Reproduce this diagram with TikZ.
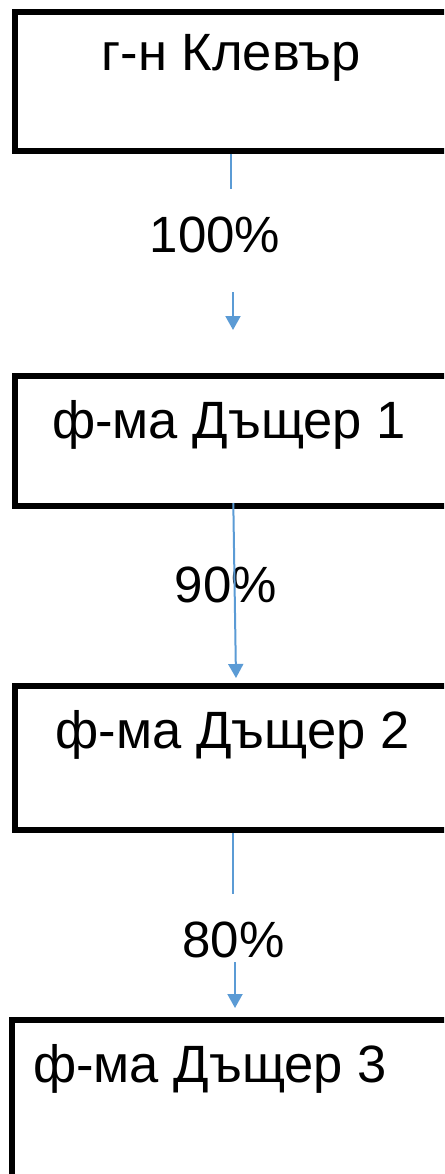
\documentclass[tikz,border=0pt]{standalone}
\usepackage{fontspec}
\setmainfont{Liberation Sans}
\usetikzlibrary{arrows.meta}
\definecolor{arrowblue}{HTML}{5B9BD5}
\begin{document}
\begin{tikzpicture}[x=1pt,y=-1pt,
  box/.style={draw=black,line width=6pt,rectangle,inner sep=0pt,minimum width=436pt},
  boxtext/.style={font=\fontsize{52.5}{52.5}\selectfont,inner sep=0pt,anchor=base},
  pct/.style={font=\fontsize{51}{51}\selectfont,inner sep=0pt,anchor=base},
  conn/.style={draw=arrowblue,line width=2pt},
  tip/.style={conn,-{Triangle[width=15pt,length=14pt]}}]
\useasboundingbox (0,0) rectangle (444,1174);
\clip (0,0) rectangle (444,1174);
% boxes
\node[box,minimum height=139pt] (b1) at (233,81.5) {};
\node[box,minimum height=130pt] (b2) at (233,441) {};
\node[box,minimum height=144pt] (b3) at (233,758) {};
\node[box,minimum width=442pt,minimum height=200pt] (b4) at (233,1120) {};
% box texts
\node[boxtext] (t1) at (231,71) {г-н Клевър};
\node[boxtext] (t2) at (229,438) {ф-ма Дъщер 1};
\node[boxtext] (t3) at (232.5,748) {ф-ма Дъщер 2};
\node[boxtext] (t4) at (210,1082) {ф-ма Дъщер 3};
% labels
\node[pct] (l1) at (215,252) {100\%};
\node[pct] (l2) at (226,602) {90\%};
\node[pct] (l3) at (233.5,957) {80\%};
% connector points
\coordinate (s1) at (231,154);
\coordinate (g1a) at (231,189);
\coordinate (g1b) at (233,292);
\coordinate (e1) at (233,330);
\coordinate (s2) at (233.3,503);
\coordinate (e2) at (236,678);
\coordinate (s3) at (233.3,833);
\coordinate (g3a) at (233.3,894);
\coordinate (g3b) at (235,962);
\coordinate (e3) at (235,1008);
% connectors
\draw[conn] (s1) -- (g1a);
\draw[tip] (g1b) -- (e1);
\draw[tip] (s2) -- (e2);
\draw[conn] (s3) -- (g3a);
\draw[tip] (g3b) -- (e3);
\end{tikzpicture}
\end{document}
